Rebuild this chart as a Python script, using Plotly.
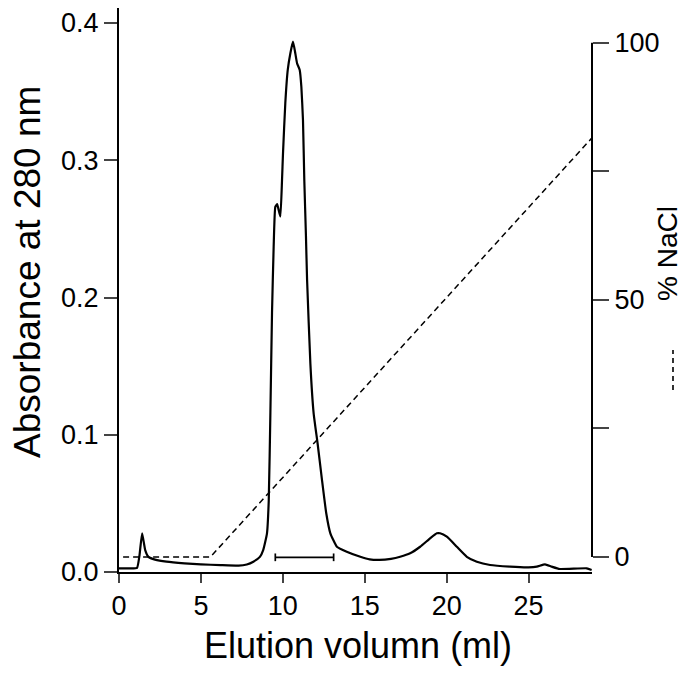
import plotly.graph_objects as go

# Absorbance at 280 nm vs elution volume (ml)
elution_ml = [0.0, 0.6, 1.1, 1.25, 1.41, 1.6, 1.8, 2.2, 2.9, 4.0, 5.0, 6.2, 7.3, 7.8, 8.2, 8.6,
              8.8, 9.03, 9.14, 9.24, 9.34, 9.44, 9.54, 9.65, 9.72, 9.85, 9.95, 10.01, 10.15,
              10.3, 10.46, 10.62, 10.76, 10.87, 11.03, 11.13, 11.23, 11.31, 11.41, 11.48,
              11.68, 11.88, 12.12, 12.39, 12.65, 12.9, 13.3, 13.9, 14.73, 15.3, 15.9, 16.6,
              17.16, 17.77, 18.38, 18.99, 19.4, 19.6, 20.01, 20.62, 21.23, 21.84, 22.65,
              23.87, 24.99, 25.5, 26.0, 26.41, 26.9, 28.55, 28.85]
absorbance = [0.0027, 0.0027, 0.0030, 0.012, 0.0282, 0.016, 0.011, 0.009, 0.0075, 0.0063, 0.0056,
              0.0050, 0.0046, 0.0055, 0.0075, 0.011, 0.016, 0.028, 0.052, 0.116, 0.189, 0.237,
              0.266, 0.268, 0.265, 0.259, 0.2856, 0.305, 0.3415, 0.3658, 0.378, 0.3864, 0.378,
              0.3706, 0.3658, 0.3536, 0.329, 0.2856, 0.245, 0.2127, 0.152, 0.1156, 0.0938,
              0.067, 0.0428, 0.0282, 0.0184, 0.0148, 0.0111, 0.0092, 0.0088, 0.0096, 0.0111,
              0.0136, 0.0184, 0.0245, 0.0282, 0.0282, 0.0257, 0.0184, 0.0111, 0.0075, 0.0051,
              0.0039, 0.0034, 0.0039, 0.0056, 0.0039, 0.0022, 0.0027, 0.0015]

# NaCl gradient (%)
gradient_ml = [0.25, 5.58, 28.87]
nacl_pct = [0, 0, 81.5]

# pooled fraction bracket
pool_start, pool_end, pool_level, cap_half = 9.54, 13.1, 0.0107, 0.0028

FONT = "Liberation Sans, Arial, sans-serif"
OFF = 8  # default page body margin
W, H = 693 - OFF, 673 - OFF
L, R, T, B = 111, 101, 0, 101
pw, ph = W - L - R, H - T - B

def px_x(p):  # screen pixel -> paper x
    return (p - OFF - L) / pw

def px_y(p):  # screen pixel -> paper y
    return (H - B - (p - OFF)) / ph

fig = go.Figure()
fig.add_trace(go.Scatter(x=elution_ml, y=absorbance, mode="lines",
                         line=dict(color="black", width=2.2, shape="spline", smoothing=0.4),
                         showlegend=False, hoverinfo="skip"))
fig.add_trace(go.Scatter(x=gradient_ml, y=nacl_pct, mode="lines", yaxis="y2",
                         line=dict(color="black", width=1.5, dash="6px,4px"),
                         showlegend=False, hoverinfo="skip"))
fig.add_trace(go.Scatter(
    x=[pool_start, pool_start, None, pool_start, pool_end, None, pool_end, pool_end],
    y=[pool_level - cap_half, pool_level + cap_half, None, pool_level, pool_level, None,
       pool_level - cap_half, pool_level + cap_half],
    mode="lines", line=dict(color="black", width=1.7), showlegend=False, hoverinfo="skip"))

tickfont = dict(family=FONT, size=27, color="black")
fig.update_layout(
    width=W, height=H, margin=dict(l=L, r=R, t=T, b=B),
    paper_bgcolor="white", plot_bgcolor="white",
    font=dict(family=FONT, color="black"),
    xaxis=dict(range=[0, 28.87], tickvals=[0, 5, 10, 15, 20, 25], ticks="outside",
               ticklen=9, tickwidth=2, showline=True, linewidth=2, linecolor="black",
               showgrid=False, zeroline=False, tickfont=tickfont),
    yaxis=dict(range=[0, 0.41093], tickvals=[0, 0.1, 0.2, 0.3, 0.4],
               ticktext=["0.0", "0.1", "0.2", "0.3", "0.4"], ticks="outside",
               ticklen=13, tickwidth=2, showline=True, linewidth=2, linecolor="black",
               showgrid=False, zeroline=False, tickfont=tickfont),
    yaxis2=dict(overlaying="y", side="right", anchor="x", range=[-2.917, 106.747],
                tickvals=[0, 25, 50, 75, 100], ticktext=["0", "", "50", "", "100"],
                ticks="outside", ticklen=16, tickwidth=2, showline=False,
                showgrid=False, zeroline=False, tickfont=tickfont),
    shapes=[dict(type="line", xref="paper", yref="y2", x0=1, x1=1, y0=0, y1=100,
                 line=dict(color="black", width=2)),
            dict(type="line", xref="paper", yref="paper", x0=px_x(673), x1=px_x(673),
                 y0=px_y(390), y1=px_y(350), line=dict(color="black", width=1.6, dash="5px,4px"))],
    annotations=[
        dict(text="Absorbance at 280 nm", xref="paper", yref="paper", x=px_x(27), y=px_y(272),
             xanchor="center", yanchor="middle", textangle=-90, showarrow=False,
             font=dict(family=FONT, size=37, color="black")),
        dict(text="% NaCl", xref="paper", yref="paper", x=px_x(667), y=px_y(254),
             xanchor="center", yanchor="middle", textangle=-90, showarrow=False,
             font=dict(family=FONT, size=28, color="black")),
        dict(text="Elution volumn (ml)", xref="paper", yref="paper", x=px_x(358), y=px_y(645),
             xanchor="center", yanchor="middle", showarrow=False,
             font=dict(family=FONT, size=36, color="black")),
    ],
)
fig.write_html("out.html")
